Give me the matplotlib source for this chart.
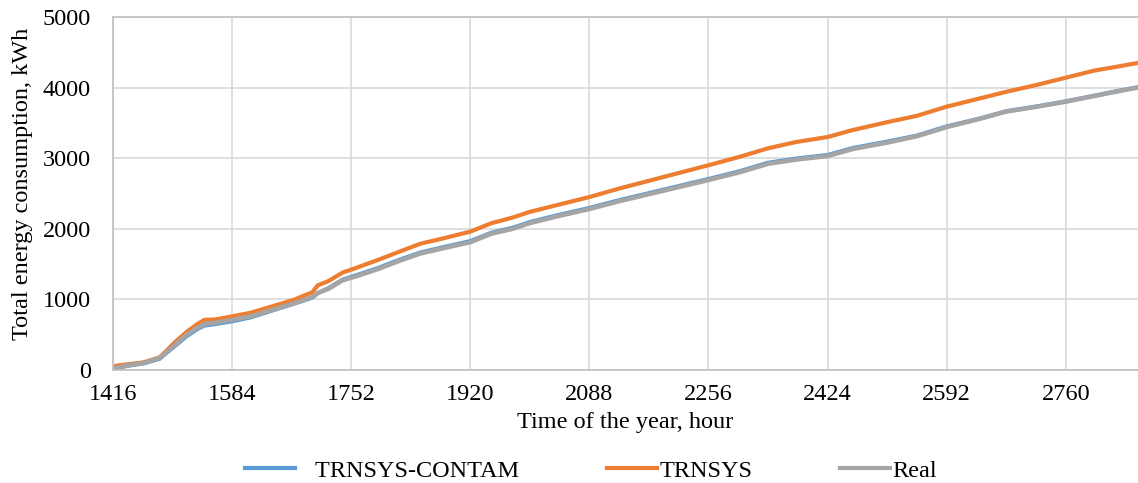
import matplotlib
matplotlib.use("Agg")
import matplotlib.pyplot as plt
from matplotlib.lines import Line2D

# Cumulative energy use, kWh, at hour-of-year checkpoints
hours = [1416, 1420, 1440, 1460, 1482, 1490, 1504, 1520, 1535, 1545, 1560,
         1584, 1610, 1640, 1670, 1697, 1705, 1720, 1740, 1760, 1790, 1821,
         1850, 1880, 1920, 1950, 1980, 2004, 2040, 2088, 2130, 2172, 2214,
         2256, 2300, 2340, 2380, 2424, 2460, 2508, 2550, 2592, 2640, 2676,
         2720, 2760, 2800, 2840, 2862]

trnsys = [0, 60, 85, 110, 180, 260, 400, 540, 650, 710, 715,
          760, 810, 900, 990, 1100, 1200, 1260, 1380, 1450, 1560, 1680,
          1790, 1860, 1960, 2080, 2160, 2240, 2330, 2450, 2570, 2680, 2790,
          2900, 3020, 3140, 3230, 3300, 3400, 3510, 3600, 3730, 3850, 3940,
          4040, 4140, 4240, 4310, 4350]

real = [0, 30, 70, 100, 170, 240, 360, 500, 600, 650, 670,
        710, 760, 850, 940, 1030, 1090, 1150, 1270, 1330, 1430, 1550,
        1650, 1720, 1810, 1930, 2000, 2080, 2170, 2280, 2390, 2490, 2590,
        2690, 2800, 2920, 2980, 3030, 3130, 3220, 3310, 3440, 3560, 3660,
        3730, 3800, 3880, 3960, 4000]

trnsys_contam = [0, 30, 65, 95, 160, 230, 345, 480, 580, 630, 650,
                 690, 745, 840, 935, 1025, 1090, 1160, 1280, 1345, 1445, 1565,
                 1665, 1735, 1825, 1945, 2015, 2095, 2185, 2295, 2405, 2505, 2605,
                 2705, 2815, 2935, 2995, 3045, 3145, 3235, 3320, 3450, 3565, 3665,
                 3735, 3805, 3885, 3965, 4005]

x_ticks = list(range(1416, 2862, 168))
y_ticks = [0, 1000, 2000, 3000, 4000, 5000]

FS = 17.5
plt.rcParams["font.family"] = ["Liberation Serif", "DejaVu Serif"]
plt.rcParams["font.size"] = FS

W, H = 1138, 483
fig = plt.figure(figsize=(W / 100, H / 100), dpi=100)
ax = fig.add_axes([113 / W, (H - 370) / H, (W - 113) / W, (370 - 17) / H])

blue, orange, grey = "#5b9bd5", "#ed7d31", "#a5a5a5"
ax.plot(hours, trnsys_contam, color=blue, lw=3, solid_joinstyle="round")
ax.plot(hours, trnsys, color=orange, lw=3, solid_joinstyle="round")
ax.plot(hours, real, color=grey, lw=3.2, solid_joinstyle="round")

ax.set_xlim(1416, 2862)
ax.set_ylim(0, 5000)
ax.set_xticks(x_ticks)
ax.set_yticks(y_ticks)
ax.tick_params(axis="both", length=0, labelsize=FS)
ax.tick_params(axis="x", pad=10)
ax.tick_params(axis="y", pad=16)
ax.grid(True, color="#d9d9d9", lw=1.2)
ax.set_axisbelow(True)
for side in ["left", "top", "bottom"]:
    ax.spines[side].set_color("#bfbfbf")
    ax.spines[side].set_linewidth(1.2)
ax.spines["right"].set_visible(False)

ax.set_xlabel("Time of the year, hour", fontsize=FS, labelpad=5)
fig.text(23 / W, 1 - 184 / H, "Total energy consumption, kWh", rotation=90,
         ha="center", va="center", fontsize=FS)

handles = [Line2D([], [], color=c, lw=3) for c in (blue, orange, grey)]
fig.legend(handles, ["   TRNSYS-CONTAM", "TRNSYS", "Real"], ncol=3,
           loc="center", bbox_to_anchor=(591 / W, 1 - 471 / H),
           frameon=False, fontsize=FS, handlelength=2.05, handletextpad=0.1,
           columnspacing=3.6, borderpad=0.0)

fig.savefig("out.png", dpi=100)
